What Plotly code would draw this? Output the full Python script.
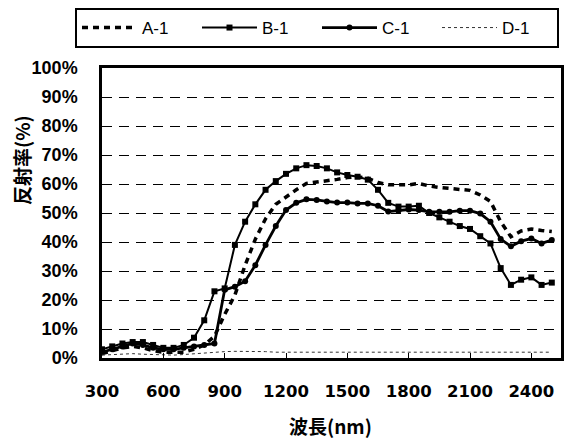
import plotly.graph_objects as go

wavelength = [300, 350, 400, 450, 500, 550, 600, 650, 700, 750, 800, 850, 900, 950,
              1000, 1050, 1100, 1150, 1200, 1250, 1300, 1350, 1400, 1450, 1500, 1550,
              1600, 1650, 1700, 1750, 1800, 1850, 1900, 1950, 2000, 2050, 2100, 2150,
              2200, 2250, 2300, 2350, 2400, 2450, 2500]

a1 = [1.5, 2.5, 3.5, 4.0, 3.5, 2.5, 2.0, 2.0, 2.0, 3.0, 4.5, 7.5, 15.0, 21.7,
      32.0, 41.0, 48.0, 53.0, 55.6, 58.0, 60.2, 60.6, 61.0, 61.6, 62.2, 62.5,
      62.0, 60.5, 59.7, 59.7, 59.7, 60.2, 59.3, 58.8, 58.5, 58.3, 57.8, 56.2,
      54.0, 47.0, 41.8, 43.8, 44.5, 44.0, 43.6]

b1 = [3.0, 4.0, 5.0, 5.5, 5.5, 4.5, 3.5, 3.5, 4.5, 7.0, 13.0, 23.0, 24.0, 39.0,
      47.0, 53.0, 58.0, 61.0, 63.5, 65.4, 66.5, 66.2, 65.4, 64.0, 63.1, 62.5,
      61.5, 58.0, 53.5, 52.2, 52.2, 52.5, 50.0, 48.5, 47.0, 45.5, 44.5, 42.0,
      39.5, 31.0, 25.2, 27.0, 27.8, 25.2, 26.0]

c1 = [2.0, 3.0, 4.0, 5.0, 4.5, 3.5, 3.0, 3.0, 3.5, 4.0, 4.5, 5.0, 23.5, 24.6,
      26.5, 32.0, 39.0, 45.5, 51.0, 53.5, 54.7, 54.5, 54.0, 53.6, 53.6, 53.3,
      53.3, 52.5, 50.5, 50.8, 51.2, 51.0, 50.4, 50.4, 50.4, 50.8, 50.8, 49.8,
      47.0, 41.0, 38.5, 40.3, 41.2, 39.5, 40.7]

d1 = [1.0, 1.2, 1.5, 1.5, 1.3, 1.2, 1.0, 1.0, 1.2, 1.5, 1.8, 2.0, 2.2, 2.3,
      2.3, 2.2, 2.2, 2.0, 2.0, 2.0, 2.0, 2.0, 2.0, 2.0, 2.0, 2.0,
      2.0, 2.0, 2.0, 2.0, 2.0, 2.0, 2.0, 2.0, 2.0, 2.0, 2.0, 2.0,
      2.0, 2.0, 2.0, 2.0, 2.0, 2.0, 2.0]

x_ticks = [300, 600, 900, 1200, 1500, 1800, 2100, 2400]
y_ticks = [0, 10, 20, 30, 40, 50, 60, 70, 80, 90, 100]
y_tick_labels = [f"{v}%" for v in y_ticks]

fig = go.Figure()
fig.add_trace(go.Scatter(x=wavelength, y=a1, name="A-1", mode="lines",
                         line=dict(color="black", width=3.5, dash="6px,5px")))
fig.add_trace(go.Scatter(x=wavelength, y=b1, name="B-1", mode="lines+markers",
                         line=dict(color="black", width=2),
                         marker=dict(symbol="square", size=6, color="black")))
fig.add_trace(go.Scatter(x=wavelength, y=c1, name="C-1", mode="lines+markers",
                         line=dict(color="black", width=2.8),
                         marker=dict(symbol="circle", size=6, color="black")))
fig.add_trace(go.Scatter(x=wavelength, y=d1, name="D-1", mode="lines",
                         line=dict(color="#333333", width=1, dash="dot")))

PW, PH = 459, 290  # plot area size in px

fig.update_layout(
    width=566, height=438,
    margin=dict(l=102, r=5, t=68, b=80, autoexpand=False),
    paper_bgcolor="white", plot_bgcolor="white",
    showlegend=True,
    legend=dict(orientation="h", xref="paper", yref="paper",
                x=(75 - 102) / PW, y=(358 - 8) / PH, xanchor="left", yanchor="top",
                bordercolor="black", borderwidth=2, bgcolor="white",
                font=dict(family="Liberation Sans", size=17, color="black"),
                entrywidth=50, entrywidthmode="pixels", itemwidth=55,
                tracegroupgap=0),
    xaxis=dict(range=[300, 2545], tickmode="array", tickvals=x_ticks,
               ticktext=[str(v) for v in x_ticks],
               showgrid=False, zeroline=False,
               showline=True, mirror=True, linecolor="black", linewidth=2.5,
               ticks="inside", ticklen=5, tickcolor="black", tickwidth=1,
               ticklabelstandoff=16,
               tickfont=dict(family="DejaVu Sans", size=16.5, color="black", weight="bold")),
    yaxis=dict(range=[0, 100], tickmode="array", tickvals=y_ticks,
               ticktext=y_tick_labels,
               showgrid=True, gridcolor="black", gridwidth=1.3, griddash="10px,7px",
               zeroline=False,
               showline=True, mirror=True, linecolor="black", linewidth=2.5,
               ticks="inside", ticklen=5, tickcolor="black", tickwidth=1,
               ticklabelstandoff=18,
               tickfont=dict(family="Liberation Sans", size=18, color="black", weight="bold")),
    annotations=[
        dict(text="反射率(%)", xref="paper", yref="paper",
             x=(21 - 102) / PW, y=(358 - 160) / PH, textangle=-90,
             xanchor="center", yanchor="middle", showarrow=False,
             font=dict(family="Noto Sans CJK JP", size=19, color="black", weight="bold")),
        dict(text="波長(nm)", xref="paper", yref="paper",
             x=(330 - 102) / PW, y=(358 - 425) / PH,
             xanchor="center", yanchor="middle", showarrow=False,
             font=dict(family="Noto Sans CJK JP", size=19, color="black", weight="bold")),
    ],
)

fig.write_html("out.html",
               config={"displayModeBar": False},
               post_script="document.body.style.margin='0';document.body.style.padding='0';")
